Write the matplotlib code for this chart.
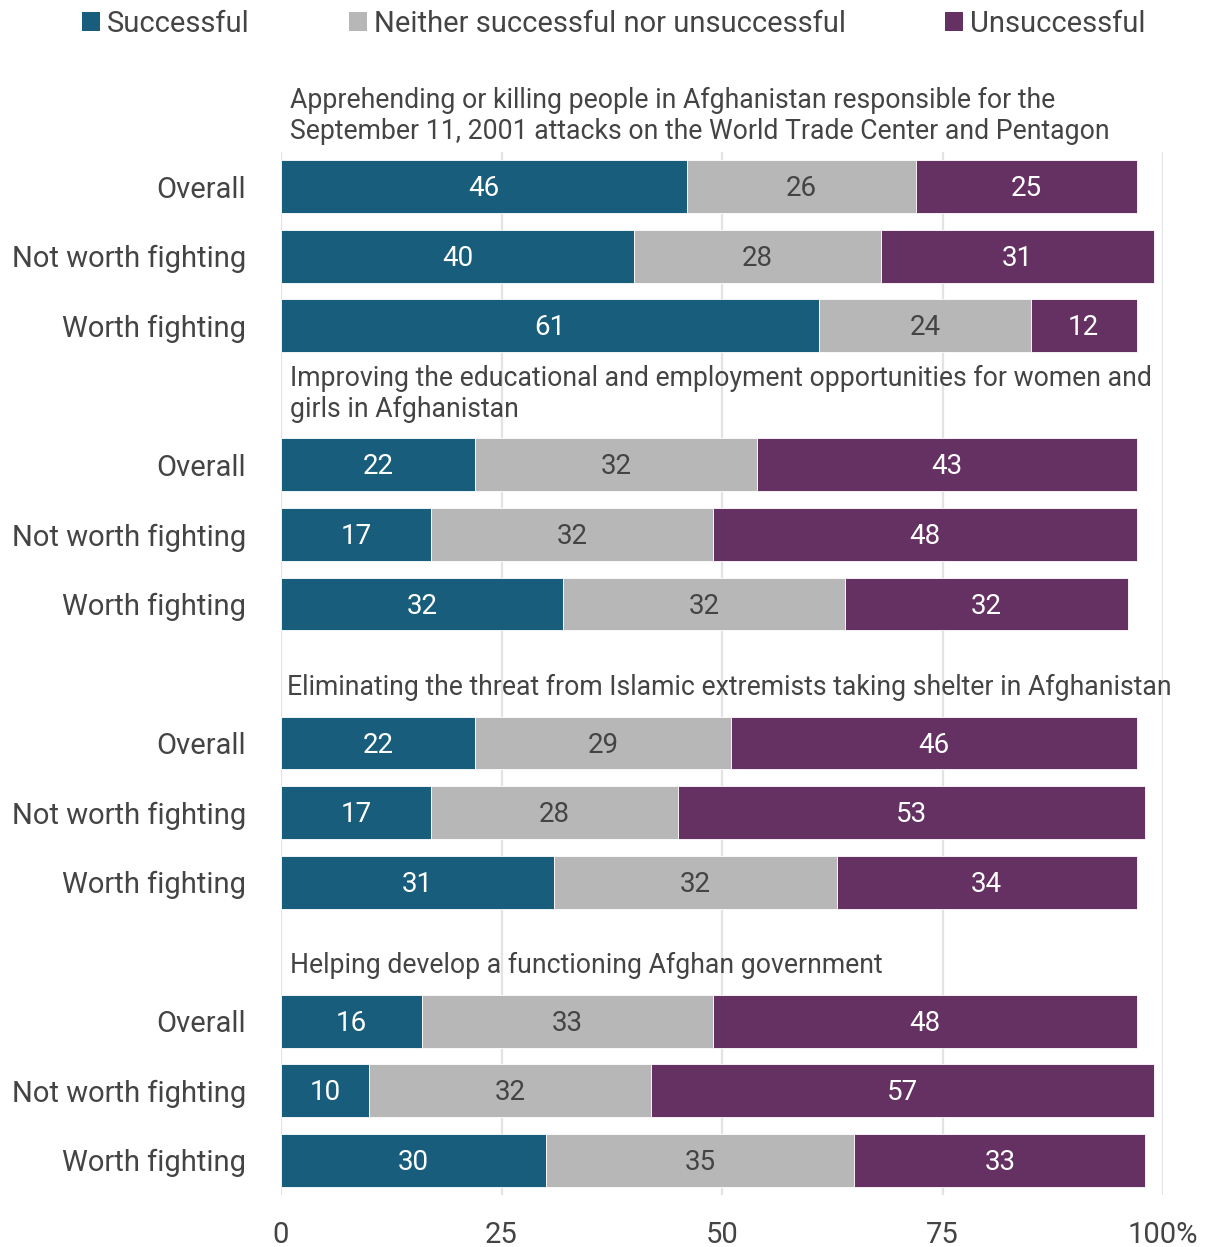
import numpy as np
import matplotlib
matplotlib.use("Agg")
from matplotlib import pyplot as plt
from matplotlib.patches import Patch

plt.rcParams['font.family'] = ['Roboto', 'DejaVu Sans']

titles = [
    "Apprehending or killing people in Afghanistan responsible for the\nSeptember 11, 2001 attacks on the World Trade Center and Pentagon",
    "Improving the educational and employment opportunities for women and\ngirls in Afghanistan",
    "Eliminating the threat from Islamic extremists taking shelter in Afghanistan",
    "Helping develop a functioning Afghan government",
]
groups = ["Overall", "Not worth fighting", "Worth fighting"]
series = ["Successful", "Neither successful nor unsuccessful", "Unsuccessful"]

successful = [46, 40, 61, 22, 17, 32, 22, 17, 31, 16, 10, 30]
neither = [26, 28, 24, 32, 32, 32, 29, 28, 32, 33, 32, 35]
unsuccessful = [25, 31, 12, 43, 48, 32, 46, 53, 34, 48, 57, 33]

colors = ["#185e7c", "#b7b7b7", "#653062"]
label_colors = ["white", "#444444", "white"]
txt = "#444444"

fig = plt.figure(figsize=(12.2, 12.47), dpi=100)
ax = fig.add_axes([281/1220, 1-1195/1247, (1163-281)/1220, (1195-152)/1247])

# slot positions: 3 bars per title, one empty slot for each title
ypos = []
for g in range(len(titles)):
    for i in range(3):
        ypos.append(g*4 + i)
ypos = np.array(ypos)

left = np.zeros(len(ypos))
for vals, col, lc in zip([successful, neither, unsuccessful], colors, label_colors):
    vals = np.array(vals)
    ax.barh(ypos, vals, left=left, height=0.76, color=col, edgecolor="white", linewidth=0.6, zorder=3)
    for y, l, v in zip(ypos, left, vals):
        ax.text(l + v/2, y + 0.03, str(v), ha="center", va="center", color=lc, fontsize=20, zorder=4)
    left += vals

for g, t in enumerate(titles):
    x0 = 0.7 if g == 2 else 1.0
    ax.text(x0, g*4 - 0.6, t, ha="left", va="bottom", fontsize=19.2, color=txt,
            linespacing=1.2, clip_on=False)

ax.set_yticks(ypos)
ax.set_yticklabels(groups * len(titles), fontsize=21, color=txt)
ax.set_ylim(14.5, -0.5)
ax.set_xlim(0, 100)
ax.set_xticks([0, 25, 50, 75, 100])
ax.set_xticklabels(["0", "25", "50", "75", "100%"], fontsize=21, color=txt)
ax.tick_params(axis="y", length=0, pad=25)
ax.tick_params(axis="x", length=0, pad=19)
ax.grid(axis="x", color="#e3e3e3", linewidth=1.6, zorder=0)
for s in ax.spines.values():
    s.set_visible(False)

handles = [Patch(facecolor=c, edgecolor="none") for c in colors]
fig.legend(handles, series, loc="upper left", bbox_to_anchor=(0.046, 1.013), ncol=3,
           frameon=False, fontsize=21, handlelength=0.6, handleheight=0.6,
           handletextpad=0.25, columnspacing=3.4, labelcolor=txt)

fig.savefig("out.png", dpi=100)
